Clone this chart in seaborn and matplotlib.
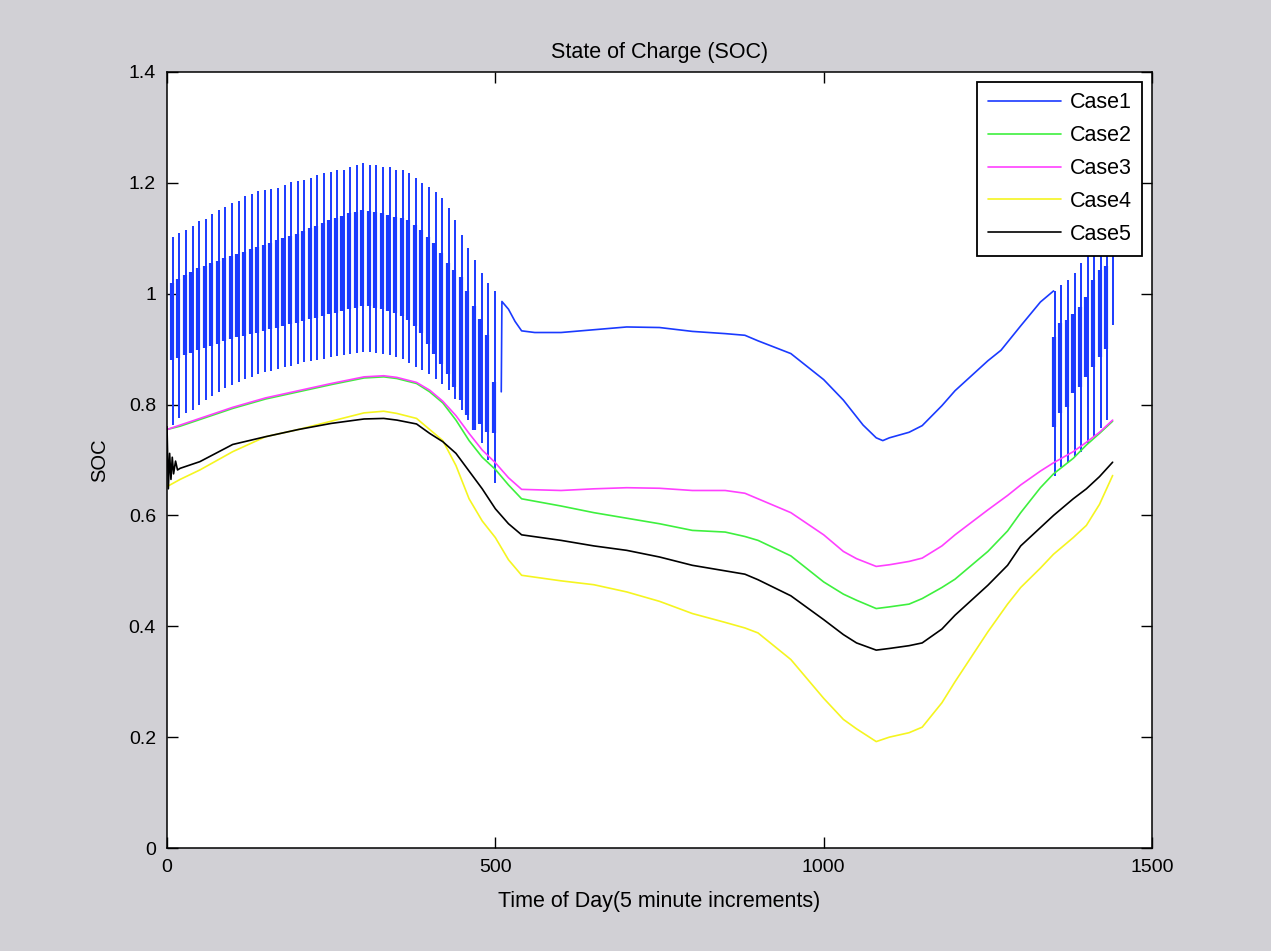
import numpy as np
import pandas as pd
import seaborn as sns
import matplotlib
matplotlib.use("Agg")
import matplotlib.pyplot as plt
from matplotlib.ticker import FuncFormatter

# time grid (minutes) shared by cases 2-4
t_grid = [0, 20, 50, 100, 150, 200, 250, 300, 330, 350, 380, 400, 420, 440, 460, 480, 500,
          520, 540, 600, 650, 700, 750, 800, 850, 880, 900, 950, 1000, 1030, 1050, 1080,
          1100, 1130, 1150, 1180, 1200, 1250, 1280, 1300, 1330, 1350, 1380, 1400, 1420, 1440]

soc_case2 = [0.755, 0.761, 0.773, 0.793, 0.810, 0.823, 0.836, 0.848, 0.850, 0.847, 0.838, 0.823,
             0.803, 0.772, 0.735, 0.705, 0.683, 0.655, 0.630, 0.617, 0.605, 0.595, 0.585, 0.573,
             0.570, 0.562, 0.555, 0.527, 0.480, 0.458, 0.447, 0.432, 0.435, 0.440, 0.450, 0.470,
             0.485, 0.535, 0.572, 0.605, 0.650, 0.675, 0.703, 0.727, 0.748, 0.770]
soc_case3 = [0.755, 0.763, 0.775, 0.795, 0.812, 0.825, 0.838, 0.850, 0.852, 0.849, 0.840, 0.826,
             0.806, 0.780, 0.748, 0.718, 0.695, 0.668, 0.647, 0.645, 0.648, 0.650, 0.649, 0.645,
             0.645, 0.640, 0.630, 0.605, 0.565, 0.535, 0.522, 0.508, 0.511, 0.517, 0.523, 0.545,
             0.565, 0.610, 0.636, 0.655, 0.680, 0.695, 0.715, 0.732, 0.750, 0.772]
soc_case4 = [0.652, 0.665, 0.682, 0.715, 0.742, 0.755, 0.770, 0.785, 0.788, 0.784, 0.775, 0.755,
             0.735, 0.690, 0.630, 0.590, 0.560, 0.520, 0.492, 0.482, 0.475, 0.462, 0.445, 0.423,
             0.407, 0.397, 0.388, 0.340, 0.270, 0.232, 0.215, 0.192, 0.200, 0.208, 0.218, 0.262,
             0.300, 0.390, 0.440, 0.470, 0.505, 0.530, 0.560, 0.582, 0.620, 0.672]

# case 5 has a short start-up transient
t_case5 = [0, 2, 4, 6, 8, 10, 13, 16] + t_grid[1:]
soc_case5 = [0.760, 0.648, 0.712, 0.665, 0.705, 0.675, 0.698, 0.682,
             0.685, 0.697, 0.728, 0.742, 0.755, 0.766, 0.774, 0.775, 0.772, 0.765, 0.748,
             0.733, 0.712, 0.680, 0.648, 0.612, 0.585, 0.565, 0.555, 0.545, 0.537, 0.525, 0.510,
             0.500, 0.494, 0.484, 0.455, 0.412, 0.385, 0.370, 0.357, 0.360, 0.365, 0.370, 0.395,
             0.420, 0.474, 0.510, 0.545, 0.578, 0.600, 0.630, 0.648, 0.670, 0.696]

# case 1 smooth middle section
t_case1 = [509, 510, 520, 530, 540, 560, 600, 650, 700, 750, 800, 850, 880, 900, 950, 1000,
           1030, 1060, 1080, 1090, 1100, 1130, 1150, 1180, 1200, 1250, 1270, 1300, 1330, 1350]
soc_case1 = [0.823, 0.986, 0.972, 0.950, 0.933, 0.930, 0.930, 0.935, 0.940, 0.939, 0.932, 0.928,
             0.925, 0.915, 0.892, 0.845, 0.808, 0.763, 0.740, 0.735, 0.740, 0.750, 0.762, 0.798,
             0.825, 0.879, 0.898, 0.942, 0.985, 1.005]

# case 1 oscillating section, morning (one entry per swing)
osc_t = [9, 19, 29, 39, 49, 59, 69, 79, 89, 99, 109, 119, 129, 139, 149, 159, 169, 179, 189, 199,
         209, 219, 229, 239, 249, 259, 269, 279, 289, 299, 309, 319, 329, 339, 349, 359, 369, 379,
         389, 399, 409, 419, 429, 439, 449, 459, 469, 479, 489, 499]
osc_hi = [1.103, 1.110, 1.115, 1.122, 1.131, 1.135, 1.143, 1.151, 1.156, 1.163,
          1.168, 1.176, 1.180, 1.186, 1.188, 1.189, 1.190, 1.196, 1.202, 1.204,
          1.205, 1.208, 1.214, 1.217, 1.220, 1.224, 1.224, 1.229, 1.232, 1.236,
          1.233, 1.232, 1.229, 1.229, 1.224, 1.224, 1.217, 1.208, 1.199, 1.193,
          1.184, 1.172, 1.154, 1.133, 1.106, 1.082, 1.061, 1.037, 1.020, 1.004]
osc_lo = [0.763, 0.775, 0.784, 0.791, 0.799, 0.808, 0.815, 0.823, 0.829, 0.835,
          0.841, 0.846, 0.850, 0.855, 0.858, 0.861, 0.864, 0.867, 0.870, 0.873,
          0.876, 0.878, 0.880, 0.883, 0.885, 0.888, 0.890, 0.892, 0.893, 0.894,
          0.894, 0.893, 0.892, 0.890, 0.886, 0.883, 0.875, 0.868, 0.862, 0.856,
          0.847, 0.838, 0.826, 0.810, 0.790, 0.772, 0.754, 0.730, 0.700, 0.658]
osc_mhi = [1.020, 1.027, 1.034, 1.040, 1.046, 1.050, 1.055, 1.059, 1.064, 1.068,
           1.072, 1.076, 1.080, 1.084, 1.088, 1.092, 1.096, 1.100, 1.104, 1.108,
           1.113, 1.118, 1.123, 1.128, 1.133, 1.137, 1.141, 1.145, 1.148, 1.151,
           1.150, 1.148, 1.145, 1.142, 1.139, 1.136, 1.133, 1.124, 1.115, 1.103,
           1.091, 1.073, 1.055, 1.043, 1.031, 1.004, 0.977, 0.955, 0.925, 0.840]
osc_mlo = [0.880, 0.884, 0.889, 0.893, 0.898, 0.902, 0.906, 0.910, 0.914, 0.918,
           0.921, 0.924, 0.927, 0.930, 0.933, 0.936, 0.939, 0.942, 0.945, 0.948,
           0.951, 0.954, 0.957, 0.960, 0.963, 0.966, 0.969, 0.972, 0.975, 0.977,
           0.977, 0.975, 0.972, 0.968, 0.965, 0.959, 0.953, 0.941, 0.929, 0.910,
           0.892, 0.874, 0.856, 0.832, 0.808, 0.781, 0.754, 0.765, 0.750, 0.748]

# case 1 oscillating section, evening
end_t = [1352, 1362, 1372, 1382, 1392, 1402, 1412, 1422, 1432, 1440]
end_hi = [1.005, 1.016, 1.025, 1.037, 1.055, 1.080, 1.100, 1.115, 1.125, 1.135]
end_lo = [0.672, 0.688, 0.694, 0.706, 0.715, 0.730, 0.742, 0.757, 0.772, 0.944]
end_mhi = [0.922, 0.947, 0.952, 0.964, 0.976, 0.994, 1.025, 1.043, 1.050]
end_mlo = [0.760, 0.784, 0.796, 0.820, 0.832, 0.850, 0.868, 0.886, 0.900]

cases = ["Case1", "Case2", "Case3", "Case4", "Case5"]
colors = ["#1a3aff", "#3ef03e", "#ff40ff", "#f5f520", "#000000"]

df = pd.concat([
    pd.DataFrame({"t": t_case1, "soc": soc_case1, "case": "Case1"}),
    pd.DataFrame({"t": t_grid, "soc": soc_case2, "case": "Case2"}),
    pd.DataFrame({"t": t_grid, "soc": soc_case3, "case": "Case3"}),
    pd.DataFrame({"t": t_grid, "soc": soc_case4, "case": "Case4"}),
    pd.DataFrame({"t": t_case5, "soc": soc_case5, "case": "Case5"}),
], ignore_index=True)

sns.set_style("ticks")
plt.rcParams["font.family"] = ["Liberation Sans", "DejaVu Sans"]
plt.rcParams["text.color"] = "black"
plt.rcParams["axes.labelcolor"] = "black"

fig = plt.figure(figsize=(12.71, 9.51), dpi=100, facecolor="#d1d0d5")
ax = fig.add_axes([0.1314, 0.1083, 0.775, 0.816])
ax.set_facecolor("white")

# oscillating parts of Case1 (drawn first, like the original plot order)
blue = colors[0]
ax.vlines(osc_t, osc_lo, osc_hi, color=blue, lw=1.4)
ax.vlines(np.array(osc_t) - 1.8, osc_mlo, osc_mhi, color=blue, lw=3.0)
ax.vlines(end_t, end_lo, end_hi, color=blue, lw=1.4)
ax.vlines(np.array(end_t[:-1]) - 1.8, end_mlo, end_mhi, color=blue, lw=3.0)

sns.lineplot(data=df, x="t", y="soc", hue="case", hue_order=cases,
             palette=dict(zip(cases, colors)), estimator=None, sort=False,
             lw=1.2, ax=ax)

ax.set_xlim(0, 1500)
ax.set_ylim(0, 1.4)
ax.set_xticks([0, 500, 1000, 1500])
ax.set_yticks([0, 0.2, 0.4, 0.6, 0.8, 1.0, 1.2, 1.4])
ax.yaxis.set_major_formatter(FuncFormatter(lambda v, p: f"{v:g}"))
ax.tick_params(direction="in", length=8, width=1, top=True, right=True,
               labelsize=14, pad=8, colors="black")
for s in ax.spines.values():
    s.set_visible(True)
    s.set_color("black")
    s.set_linewidth(1.1)

ax.set_title("State of Charge (SOC)", fontsize=15.5, pad=10, color="black")
ax.set_xlabel("Time of Day(5 minute increments)", fontsize=15.5, labelpad=11)
ax.set_ylabel("SOC", fontsize=14.5, labelpad=14)

handles, labels = ax.get_legend_handles_labels()
leg = ax.legend(handles, labels, loc="upper right", fontsize=15.5, fancybox=False,
                framealpha=1, edgecolor="black", handlelength=3.4,
                borderaxespad=0.45, labelspacing=0.55, handletextpad=0.4,
                borderpad=0.5)
leg.get_frame().set_linewidth(1.3)
leg.set_zorder(10)

fig.savefig("out.png", dpi=100, facecolor=fig.get_facecolor())
